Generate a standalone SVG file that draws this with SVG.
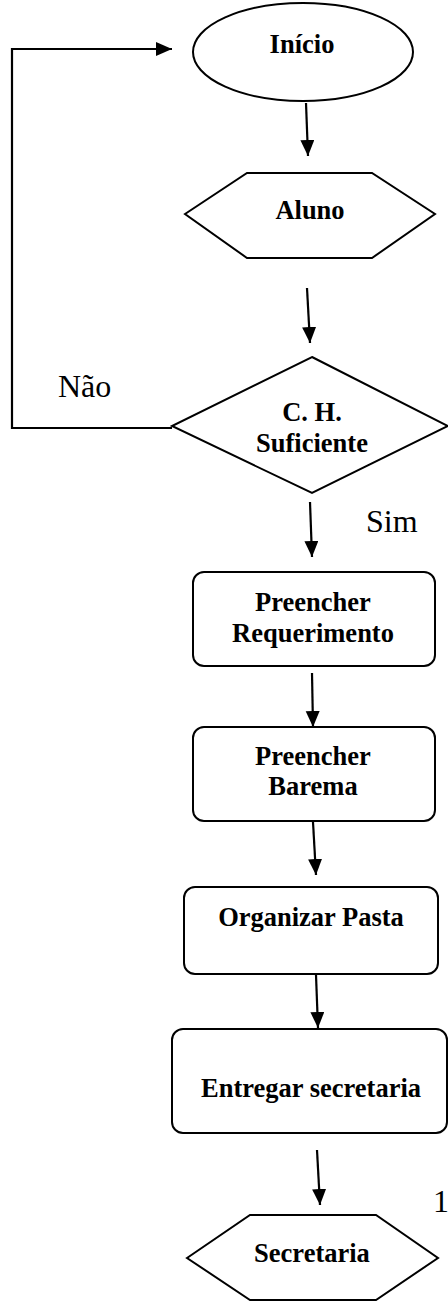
<svg xmlns="http://www.w3.org/2000/svg" width="448" height="1303" viewBox="0 0 448 1303">
<defs>
<style>
.shape{fill:#fff;stroke:#000;stroke-width:2}
.lbl{font-family:"Liberation Serif","Times New Roman",serif;font-weight:bold;font-size:26.5px;fill:#000;text-anchor:middle}
.reg{font-family:"Liberation Serif","Times New Roman",serif;font-size:32px;fill:#000}
.conn{fill:none;stroke:#000;stroke-width:2.2}
</style>
<marker id="ah" markerUnits="userSpaceOnUse" markerWidth="17" markerHeight="15" refX="16" refY="7" orient="auto">
<path d="M0,0 L16,7 L0,14 z" fill="#000"/>
</marker>
</defs>
<rect width="448" height="1303" fill="#fff"/>
<g id="connectors">
<polyline class="conn" points="172,428 12,428 12,49 172,49" marker-end="url(#ah)"/>
<line class="conn" x1="306" y1="103" x2="308" y2="156" marker-end="url(#ah)"/>
<line class="conn" x1="307" y1="288" x2="310" y2="343" marker-end="url(#ah)"/>
<line class="conn" x1="310" y1="502" x2="312" y2="557" marker-end="url(#ah)"/>
<line class="conn" x1="312" y1="673" x2="313" y2="727" marker-end="url(#ah)"/>
<line class="conn" x1="313" y1="822" x2="316" y2="875" marker-end="url(#ah)"/>
<line class="conn" x1="316" y1="975" x2="318" y2="1028" marker-end="url(#ah)"/>
<line class="conn" x1="317" y1="1150" x2="320" y2="1205" marker-end="url(#ah)"/>
<text class="reg" x="58" y="397">Não</text>
<text class="reg" x="366" y="532">Sim</text>
</g>
<g id="inicio">
<ellipse class="shape" cx="303" cy="52" rx="110" ry="49"/>
<text class="lbl" x="302" y="53">Início</text>
</g>
<g id="aluno">
<polygon class="shape" points="185,214 247,173 372,173 435,214 372,258 247,258"/>
<text class="lbl" x="310" y="219">Aluno</text>
</g>
<g id="ch-suficiente">
<polygon class="shape" points="312,357 448,426 312,493 172,426"/>
<text class="lbl" x="312" y="421">C. H.</text>
<text class="lbl" x="312" y="452">Suficiente</text>
</g>
<g id="preencher-requerimento">
<rect class="shape" x="193" y="572" width="242" height="94" rx="11"/>
<text class="lbl" x="313" y="611">Preencher</text>
<text class="lbl" x="313" y="642">Requerimento</text>
</g>
<g id="preencher-barema">
<rect class="shape" x="193" y="727" width="242" height="94" rx="11"/>
<text class="lbl" x="313" y="765">Preencher</text>
<text class="lbl" x="313" y="795">Barema</text>
</g>
<g id="organizar-pasta">
<rect class="shape" x="184" y="887" width="254" height="87" rx="11"/>
<text class="lbl" x="311" y="926">Organizar Pasta</text>
</g>
<g id="entregar-secretaria">
<rect class="shape" x="172" y="1029" width="275" height="104" rx="11"/>
<text class="lbl" x="311" y="1097">Entregar secretaria</text>
</g>
<g id="secretaria">
<polygon class="shape" points="187,1258 250,1215 376,1215 438,1258 376,1300 250,1300"/>
<text class="lbl" x="312" y="1262">Secretaria</text>
</g>
<text class="reg" x="433" y="1212">1</text>
</svg>
